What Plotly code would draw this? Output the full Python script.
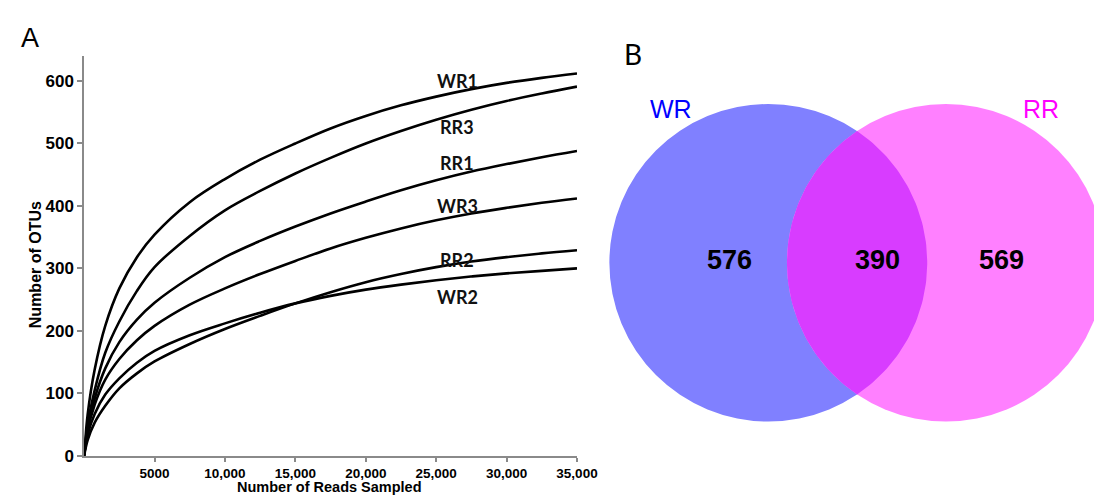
import numpy as np
import plotly.graph_objects as go

# ---------------- data ----------------
reads = [0, 250, 750, 1500, 2500, 3750, 5000, 7500, 10000, 12500, 15000,
         17500, 20000, 22500, 25000, 27500, 30000, 32500, 35000]
WR1 = [0, 66, 138, 208, 268, 318, 354, 406, 443, 474, 500, 524, 544, 561, 575, 587, 597, 605, 612]
RR3 = [0, 50, 105, 165, 215, 264, 302, 352, 393, 424, 452, 477, 500, 520, 538, 554, 568, 580, 591]
RR1 = [0, 45, 92, 140, 182, 218, 245, 285, 318, 344, 367, 388, 407, 425, 441, 455, 467, 478, 488]
WR3 = [0, 40, 82, 122, 155, 185, 208, 242, 268, 291, 312, 332, 349, 364, 377, 388, 397, 405, 412]
WR2 = [0, 34, 67, 98, 124, 149, 168, 193, 212, 229, 244, 256, 266, 274, 281, 287, 292, 296, 300]
RR2 = [0, 25, 53, 80, 108, 132, 151, 179, 203, 224, 244, 262, 278, 291, 302, 311, 318, 324, 329]

samples = ["WR1", "RR3", "RR1", "WR3", "RR2", "WR2"]
series = [WR1, RR3, RR1, WR3, RR2, WR2]
label_x = 26500
label_y = [600, 526, 468, 400, 314, 254]

x_tickvals = [5000, 10000, 15000, 20000, 25000, 30000, 35000]
x_ticktext = ["5000", "10,000", "15,000", "20,000", "25,000", "30,000", "35,000"]
y_tickvals = [0, 100, 200, 300, 400, 500, 600]

venn_sets = ["WR", "RR"]
venn_colors = ["#0000FF", "#FF00FF"]
venn_counts = [576, 390, 569]   # WR only, shared, RR only

# ---------------- figure ----------------
W, H = 1107, 497
fig = go.Figure()

for name, ys in zip(samples, series):
    fig.add_trace(go.Scatter(x=reads, y=ys, mode="lines", name=name,
                             line=dict(color="black", width=2.6, shape="spline", smoothing=1.0),
                             xaxis="x", yaxis="y", hoverinfo="x+y+name"))

for name, ly in zip(samples, label_y):
    fig.add_annotation(x=label_x, y=ly, xref="x", yref="y", text=name, showarrow=False,
                       font=dict(family="Lato", size=18, color="#111111", weight="bold"),
                       xanchor="center", yanchor="middle")

fig.update_layout(
    width=W, height=H,
    margin=dict(l=0, r=0, t=0, b=0),
    paper_bgcolor="white", plot_bgcolor="rgba(0,0,0,0)",
    showlegend=False,
    xaxis=dict(domain=[77.6 / W, 580 / W], range=[0, 35000], tickvals=x_tickvals, ticktext=x_ticktext,
               showline=True, linecolor="#8a8a8a", linewidth=1.5, ticks="outside", ticklen=4,
               tickcolor="#8a8a8a", tickwidth=1.5, showgrid=False, zeroline=False,
               tickfont=dict(family="Liberation Sans, Arial", size=13.5, color="black", weight="bold"),
               ticklabelstandoff=0),
    yaxis=dict(domain=[(H - 457) / H, (H - 49) / H], range=[0, 640], tickvals=y_tickvals,
               showline=True, linecolor="#8a8a8a", linewidth=1.5, ticks="outside", ticklen=5,
               tickcolor="#8a8a8a", tickwidth=1.5, showgrid=False, zeroline=False,
               tickfont=dict(family="Liberation Sans, Arial", size=17, color="black", weight="bold"),
               ticklabelstandoff=0),
    xaxis2=dict(domain=[590 / W, 1], range=[590, W], visible=False, fixedrange=True),
    yaxis2=dict(domain=[0, 1], range=[H, 0], visible=False, fixedrange=True),
)

# axis titles
fig.add_annotation(x=328 / W, y=(H - 488.5) / H, xref="paper", yref="paper", text="<b>Number of Reads Sampled</b>",
                   showarrow=False, font=dict(family="Liberation Sans, Arial", size=14.5, color="black"),
                   xanchor="center", yanchor="middle")
fig.add_annotation(x=28 / W, y=(H - 262) / H, xref="paper", yref="paper", text="<b>Number of OTUs</b>",
                   textangle=-90, showarrow=False,
                   font=dict(family="Liberation Sans, Arial", size=16, color="black"),
                   xanchor="center", yanchor="middle")

# panel letters
fig.add_annotation(x=22 / W, y=(H - 31) / H, xref="paper", yref="paper", text="A", showarrow=False,
                   font=dict(family="Liberation Sans, Arial", size=27, color="black"),
                   xanchor="center", yanchor="middle")
fig.add_annotation(x=637 / W, y=(H - 47) / H, xref="paper", yref="paper", text="B", showarrow=False,
                   font=dict(family="Lato", size=28, color="black"),
                   xanchor="center", yanchor="middle")

# ---------------- Venn diagram (x2/y2 are pixel-like units) ----------------
cy, r = 260, 162
centers = [775, 956]
fills = ["#8080FF", "#FF80FF"]
for cx, fc in zip(centers, fills):
    fig.add_shape(type="circle", xref="x2", yref="y2", x0=cx - r, x1=cx + r, y0=cy - r, y1=cy + r,
                  fillcolor=fc, line=dict(width=0), layer="below")

# lens (intersection)
d = centers[1] - centers[0]
half = np.arccos((d / 2) / r)
t1 = np.linspace(-half, half, 80)
t2 = np.linspace(np.pi - half, np.pi + half, 80)[::-1]
lx = np.concatenate([centers[0] + r * np.cos(t1), centers[1] + r * np.cos(t2)])
ly = np.concatenate([cy + r * np.sin(t1), cy + r * np.sin(t2)])
fig.add_trace(go.Scatter(x=lx, y=ly, xaxis="x2", yaxis="y2", mode="lines", fill="toself",
                         fillcolor="#D83CFF", line=dict(width=0, color="#D83CFF"), hoverinfo="skip"))

# set labels
for name, col, tx in zip(venn_sets, venn_colors, [676, 1053]):
    fig.add_annotation(x=tx, y=103, xref="x2", yref="y2", text=name, showarrow=False,
                       font=dict(family="Liberation Sans, Arial", size=25, color=col),
                       xanchor="center", yanchor="middle")

for cnt, tx in zip(venn_counts, [735, 886, 1013]):
    fig.add_annotation(x=tx, y=257, xref="x2", yref="y2", text=f"<b>{cnt}</b>", showarrow=False,
                       font=dict(family="Liberation Sans, Arial", size=27, color="black"),
                       xanchor="center", yanchor="middle")

fig.write_html("out.html")
